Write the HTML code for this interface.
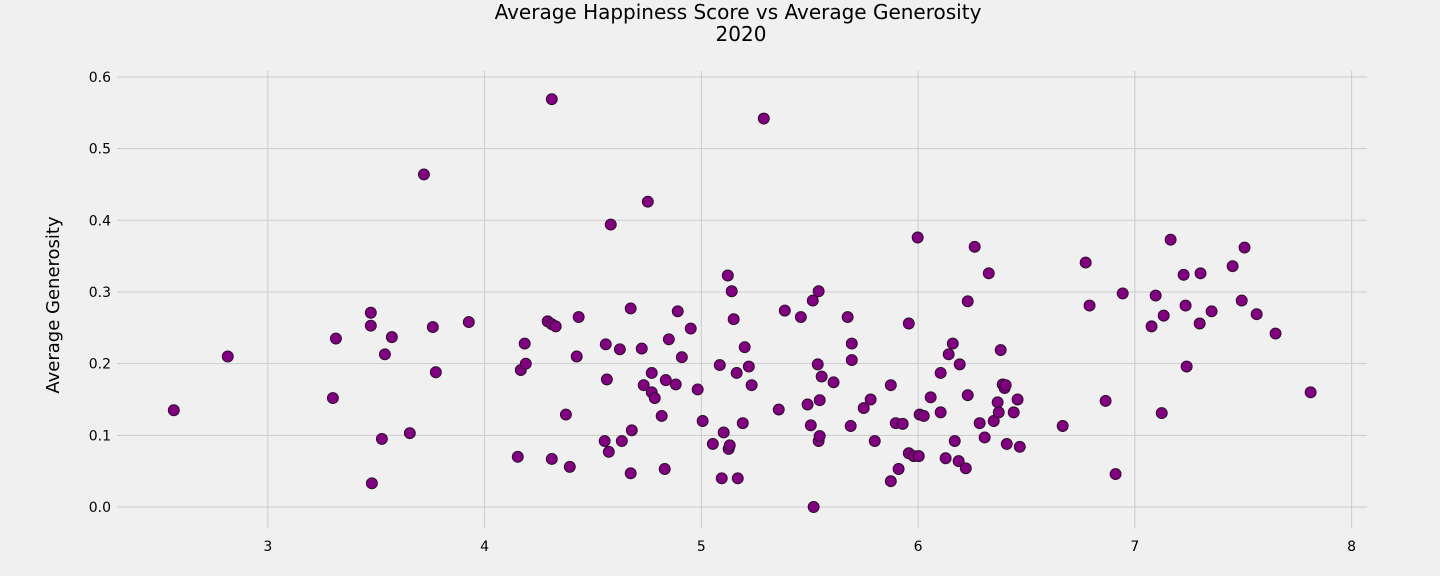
<!DOCTYPE html>
<html><head><meta charset="utf-8">
<style>
html,body{margin:0;padding:0;background:#f0f0f0;}
svg{display:block;font-family:"DejaVu Sans","Liberation Sans",sans-serif;}
</style></head>
<body>
<svg id="chart" width="1440" height="576">
<rect width="1440" height="576" fill="#f0f0f0"/>
<text x="738" y="19" text-anchor="middle" font-size="20" fill="#000">Average Happiness Score vs Average Generosity</text>
<text x="741" y="41" text-anchor="middle" font-size="20" fill="#000">2020</text>
<text transform="translate(59,305) rotate(-90)" text-anchor="middle" font-size="18" fill="#000">Average Generosity</text>
<g id="grid"></g>
<g id="ticks"></g>
<g id="points"></g>
</svg>
<script>
const xVals=[2.566,2.815,3.30,3.314,3.475,3.475,3.48,3.526,3.54,3.572,3.655,3.72,3.761,3.775,3.927,4.153,4.167,4.185,4.19,4.291,4.31,4.328,4.31,4.31,4.375,4.393,4.425,4.434,4.554,4.559,4.564,4.573,4.582,4.624,4.633,4.674,4.674,4.679,4.725,4.734,4.753,4.771,4.771,4.785,4.817,4.831,4.836,4.85,4.882,4.891,4.91,4.951,4.983,5.006,5.053,5.085,5.094,5.103,5.122,5.126,5.131,5.14,5.149,5.163,5.168,5.191,5.2,5.219,5.232,5.288,5.357,5.385,5.459,5.49,5.505,5.514,5.518,5.537,5.541,5.546,5.541,5.546,5.555,5.61,5.675,5.694,5.694,5.689,5.749,5.781,5.8,5.874,5.874,5.897,5.91,5.929,5.957,5.957,5.98,5.998,6.003,6.007,6.026,6.058,6.104,6.104,6.127,6.141,6.16,6.169,6.187,6.192,6.22,6.229,6.229,6.261,6.284,6.307,6.326,6.349,6.367,6.372,6.381,6.39,6.399,6.404,6.409,6.441,6.459,6.469,6.667,6.773,6.791,6.865,6.911,6.944,7.077,7.096,7.124,7.133,7.165,7.225,7.234,7.239,7.299,7.303,7.354,7.451,7.493,7.506,7.562,7.649,7.811];
const yVals=[0.135,0.210,0.152,0.235,0.271,0.253,0.033,0.095,0.213,0.237,0.103,0.464,0.251,0.188,0.258,0.070,0.191,0.228,0.200,0.259,0.255,0.252,0.569,0.067,0.129,0.056,0.210,0.265,0.092,0.227,0.178,0.077,0.394,0.220,0.092,0.277,0.047,0.107,0.221,0.170,0.426,0.187,0.160,0.152,0.127,0.053,0.177,0.234,0.171,0.273,0.209,0.249,0.164,0.120,0.088,0.198,0.040,0.104,0.323,0.081,0.086,0.301,0.262,0.187,0.040,0.117,0.223,0.196,0.170,0.542,0.136,0.274,0.265,0.143,0.114,0.288,0.000,0.199,0.301,0.149,0.092,0.099,0.182,0.174,0.265,0.228,0.205,0.113,0.138,0.150,0.092,0.170,0.036,0.117,0.053,0.116,0.256,0.075,0.071,0.376,0.071,0.129,0.127,0.153,0.187,0.132,0.068,0.213,0.228,0.092,0.064,0.199,0.054,0.287,0.156,0.363,0.117,0.097,0.326,0.120,0.146,0.132,0.219,0.171,0.166,0.170,0.088,0.132,0.150,0.084,0.113,0.341,0.281,0.148,0.046,0.298,0.252,0.295,0.131,0.267,0.373,0.324,0.281,0.196,0.256,0.326,0.273,0.336,0.288,0.362,0.269,0.242,0.160];
const xTicks=[3,4,5,6,7,8];
const yTicks=[0.0,0.1,0.2,0.3,0.4,0.5,0.6];
const yTickLabels=["0.0","0.1","0.2","0.3","0.4","0.5","0.6"];
const xTickLabels=["3","4","5","6","7","8"];

const X0=117,X1=1367,Y0=528,Y1=72;
const xMin=2.304,xMax=8.071,yMin=-0.0293,yMax=0.6069;
const sx=v=>X0+(v-xMin)/(xMax-xMin)*(X1-X0);
const sy=v=>Y0-(v-yMin)/(yMax-yMin)*(Y0-Y1);
const NS="http://www.w3.org/2000/svg";
const grid=document.getElementById('grid'),ticks=document.getElementById('ticks'),pts=document.getElementById('points');
function mk(t,a){const e=document.createElementNS(NS,t);for(const k in a)e.setAttribute(k,a[k]);return e;}
xTicks.forEach((v,i)=>{
  const l=mk('line',{x1:sx(v),x2:sx(v),y1:Y1-1,y2:Y0,stroke:'#cbcbcb','stroke-width':1});
  
  
  grid.appendChild(l);
  const t=mk('text',{x:sx(v),y:551,'text-anchor':'middle','font-size':14,fill:'#000'});
  t.textContent=xTickLabels[i];
  
  
  ticks.appendChild(t);
});
yTicks.forEach((v,i)=>{
  const l=mk('line',{x1:X0,x2:X1,y1:sy(v),y2:sy(v),stroke:'#cbcbcb','stroke-width':1});
  
  
  grid.appendChild(l);
  const t=mk('text',{x:111,y:sy(v)+5,'text-anchor':'end','font-size':14,fill:'#000'});
  t.textContent=yTickLabels[i];
  
  
  ticks.appendChild(t);
});
xVals.forEach((x,i)=>{
  const c=mk('circle',{cx:sx(x),cy:sy(yVals[i]),r:5.5,fill:'#800080',stroke:'#2a0a2a','stroke-width':0.9});
  
  
  pts.appendChild(c);
});
</script>
</body></html>
